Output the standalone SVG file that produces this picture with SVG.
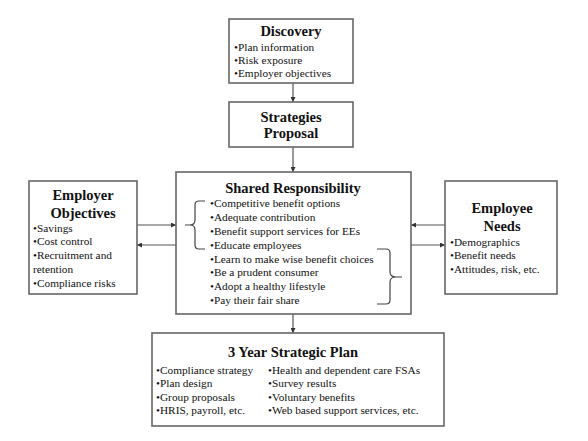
<svg xmlns="http://www.w3.org/2000/svg" width="588" height="441" viewBox="0 0 588 441">
<style>
.box{fill:#fff;stroke:#666;stroke-width:1.6}
.t{font-family:"Liberation Serif","Times New Roman",serif;font-weight:bold;font-size:14.5px;fill:#111;text-anchor:middle}
.b{font-family:"Liberation Serif","Times New Roman",serif;font-size:11.3px;fill:#111}
.c{fill:none;stroke:#555;stroke-width:1.2}
.br{fill:none;stroke:#444;stroke-width:1.2}
</style>
<defs>
<marker id="ah" viewBox="0 0 10 10" refX="10" refY="5" markerWidth="5" markerHeight="5" orient="auto" markerUnits="userSpaceOnUse">
<path d="M0,0 L10,5 L0,10 z" fill="#333"/>
</marker>
</defs>
<rect width="588" height="441" fill="#fff"/>
<g id="connectors">
<line class="c" x1="293" y1="83" x2="293" y2="102" marker-end="url(#ah)"/>
<line class="c" x1="293" y1="147" x2="293" y2="172" marker-end="url(#ah)"/>
<line class="c" x1="293" y1="314" x2="293" y2="333" marker-end="url(#ah)"/>
<line class="c" x1="137" y1="225" x2="176" y2="225" marker-end="url(#ah)"/>
<line class="c" x1="176" y1="245" x2="137" y2="245" marker-end="url(#ah)"/>
<line class="c" x1="445" y1="225" x2="411" y2="225" marker-end="url(#ah)"/>
<line class="c" x1="411" y1="245" x2="445" y2="245" marker-end="url(#ah)"/>
</g>
<g id="discovery">
<rect class="box" x="229" y="19" width="124" height="64"/>
<text class="t" x="291" y="36">Discovery</text>
<text class="b" x="234" y="51">•Plan information</text>
<text class="b" x="234" y="64">•Risk exposure</text>
<text class="b" x="234" y="77">•Employer objectives</text>
</g>
<g id="strategies">
<rect class="box" x="229" y="102" width="124" height="45"/>
<text class="t" x="291" y="122">Strategies</text>
<text class="t" x="291" y="138">Proposal</text>
</g>
<g id="shared">
<rect class="box" x="176" y="172" width="235" height="142"/>
<text class="t" x="293" y="193">Shared Responsibility</text>
<text class="b" x="210" y="207">•Competitive benefit options</text>
<text class="b" x="210" y="221">•Adequate contribution</text>
<text class="b" x="210" y="234.5">•Benefit support services for EEs</text>
<text class="b" x="210" y="248.5">•Educate employees</text>
<text class="b" x="210" y="262.5">•Learn to make wise benefit choices</text>
<text class="b" x="210" y="276">•Be a prudent consumer</text>
<text class="b" x="210" y="290">•Adopt a healthy lifestyle</text>
<text class="b" x="210" y="303.5">•Pay their fair share</text>
<path class="br" d="M205,201 L199,201 Q195,201 195,205 L195,220 Q195,225 190,225 L185,225 M190,225 Q195,225 195,230 L195,245 Q195,249 199,249 L205,249"/>
<path class="br" d="M377,249 L386,249 Q390,249 390,253 L390,272 Q390,277 396,277 L402,277 M396,277 Q390,277 390,282 L390,300 Q390,304 386,304 L377,304"/>
</g>
<g id="employer">
<rect class="box" x="29" y="181" width="108" height="113"/>
<text class="t" x="83" y="200">Employer</text>
<text class="t" x="83" y="218">Objectives</text>
<text class="b" x="33" y="231.5">•Savings</text>
<text class="b" x="33" y="245">•Cost control</text>
<text class="b" x="33" y="259">•Recruitment and</text>
<text class="b" x="33" y="272.5">retention</text>
<text class="b" x="33" y="286.5">•Compliance risks</text>
</g>
<g id="employee">
<rect class="box" x="445" y="181" width="112" height="113"/>
<text class="t" x="502" y="213">Employee</text>
<text class="t" x="502" y="231">Needs</text>
<text class="b" x="450" y="245.5">•Demographics</text>
<text class="b" x="450" y="259">•Benefit needs</text>
<text class="b" x="450" y="272.5">•Attitudes, risk, etc.</text>
</g>
<g id="plan">
<rect class="box" x="152" y="333" width="292" height="93"/>
<text class="t" x="293" y="357">3 Year Strategic Plan</text>
<text class="b" x="156" y="374">•Compliance strategy</text>
<text class="b" x="156" y="387">•Plan design</text>
<text class="b" x="156" y="400.5">•Group proposals</text>
<text class="b" x="156" y="413.5">•HRIS, payroll, etc.</text>
<text class="b" x="268" y="374">•Health and dependent care FSAs</text>
<text class="b" x="268" y="387">•Survey results</text>
<text class="b" x="268" y="400.5">•Voluntary benefits</text>
<text class="b" x="268" y="413.5">•Web based support services, etc.</text>
</g>
</svg>
